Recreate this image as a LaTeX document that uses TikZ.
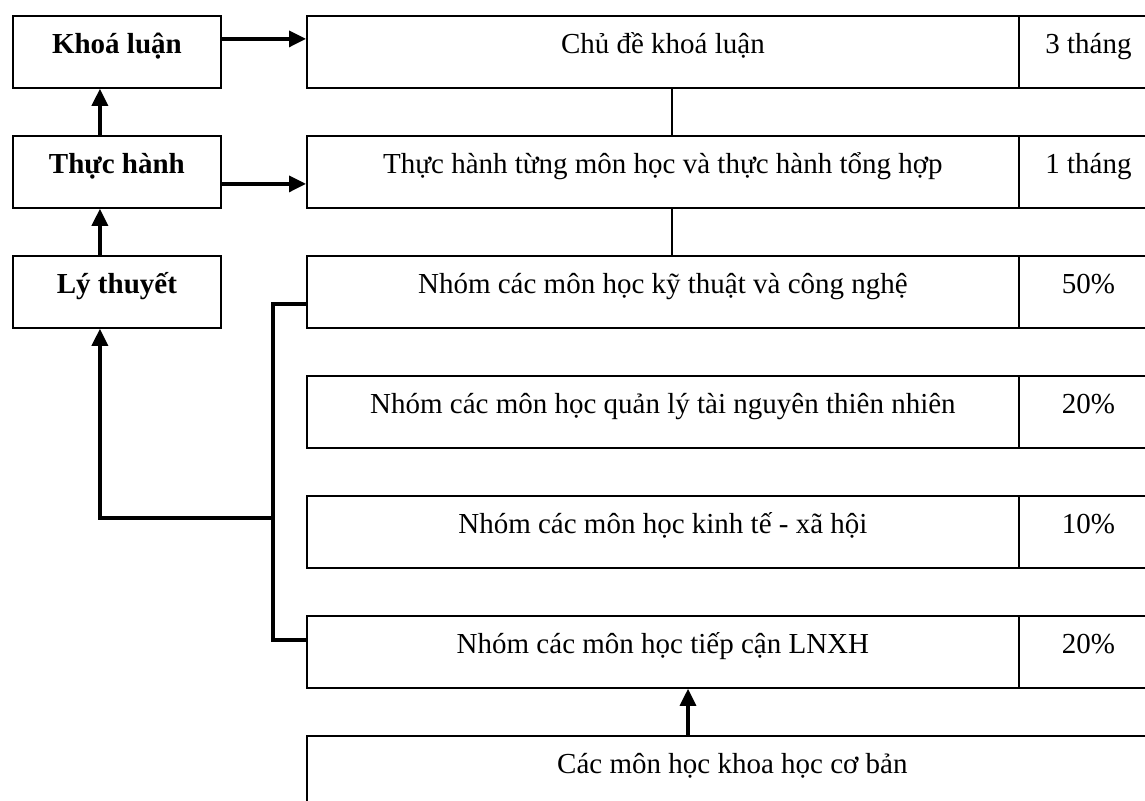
\documentclass[tikz,border=0pt]{standalone}
\usepackage{fontspec}
\setmainfont{Liberation Serif}
\usetikzlibrary{arrows.meta}
\begin{document}
\begin{tikzpicture}[x=1pt,y=-1pt,
  every node/.style={font=\fontsize{29}{34}\selectfont},
  box/.style={draw, line width=1.8pt, inner sep=0pt, minimum height=72pt,
              text height=20pt, text depth=16pt, anchor=north west},
  stage/.style={box, minimum width=208pt, font=\fontsize{29}{34}\selectfont\bfseries},
  topic/.style={box, minimum width=712pt},
  share/.style={box, minimum width=139pt},
  arr/.style={line width=3.3pt, -{Triangle[length=17pt,width=16pt]}},
  bus/.style={line width=3.3pt},
  link/.style={line width=1.4pt}]
\useasboundingbox (0,0) rectangle (1145,800);
\clip (0,0) rectangle (1145,800);

% stages on the left
\node[stage] (kl) at (12,15)  {Khoá luận};
\node[stage] (th) at (12,135) {Thực hành};
\node[stage] (lt) at (12,255) {Lý thuyết};

% topics with their duration or share
\node[topic] (m1) at (306,15)  {Chủ đề khoá luận};
\node[share] (p1) at (1018,15) {3 tháng};
\node[topic] (m2) at (306,135) {Thực hành từng môn học và thực hành tổng hợp};
\node[share] (p2) at (1018,135) {1 tháng};
\node[topic] (m3) at (306,255) {Nhóm các môn học kỹ thuật và công nghệ};
\node[share] (p3) at (1018,255) {50\%};
\node[topic] (m4) at (306,375) {Nhóm các môn học quản lý tài nguyên thiên nhiên};
\node[share] (p4) at (1018,375) {20\%};
\node[topic] (m5) at (306,495) {Nhóm các môn học kinh tế - xã hội};
\node[share] (p5) at (1018,495) {10\%};
\node[topic] (m6) at (306,615) {Nhóm các môn học tiếp cận LNXH};
\node[share] (p6) at (1018,615) {20\%};
\node[box, minimum width=851pt] (bb) at (306,735) {Các môn học khoa học cơ bản};

% stage to stage
\draw[arr] ([xshift=-17pt]th.north) -- ([xshift=-17pt]kl.south);
\draw[arr] ([xshift=-17pt]lt.north) -- ([xshift=-17pt]th.south);

% stage to topic
\draw[arr] ([yshift=13pt]kl.east) -- ([yshift=13pt]kl.east -| m1.west);
\draw[arr] ([yshift=-12pt]th.east) -- ([yshift=-12pt]th.east -| m2.west);

% thin links between topics
\draw[link] ([xshift=9pt]m1.south) -- ([xshift=9pt]m2.north);
\draw[link] ([xshift=9pt]m2.south) -- ([xshift=9pt]m3.north);

% bracket gathering the subject groups
\coordinate (join) at (273,518);
\draw[bus] ([yshift=-12pt]m3.west) -| (join) |- ([yshift=12pt]m6.west);
\draw[arr] (join) -| ([xshift=-17pt]lt.south);

% basic sciences feed the groups
\coordinate (col) at (688,0);
\draw[arr] (bb.north -| col) -- (m6.south -| col);
\end{tikzpicture}
\end{document}
